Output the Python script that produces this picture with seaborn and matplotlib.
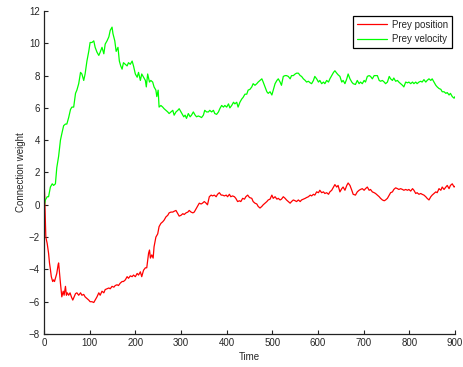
import matplotlib
matplotlib.use("Agg")
import matplotlib.pyplot as plt
import seaborn as sns
import pandas as pd

# Prey position weight over time
pos_time = [0, 1.5, 3, 4, 7, 10, 12, 14, 16, 19, 21, 23, 26, 28, 31, 32, 34, 36, 38, 39,
            42, 44, 47, 49, 51, 54, 57, 60, 63, 66, 69, 72, 76, 80, 83, 87, 90, 94, 98, 101,
            105, 109, 112, 116, 120, 123, 127, 131, 134, 138, 142, 145, 149, 153, 156, 160, 163, 167, 171, 174,
            178, 182, 185, 189, 193, 196, 200, 204, 207, 211, 214, 218, 222, 225, 229, 231, 233, 236, 239, 241,
            245, 249, 252, 256, 260, 263, 267, 271, 274, 278, 282, 285, 289, 293, 296, 300, 304, 307, 311, 315,
            318, 322, 326, 329, 333, 336, 340, 344, 347, 351, 355, 358, 362, 366, 369, 373, 377, 380, 384, 388,
            391, 395, 399, 402, 406, 409, 413, 417, 420, 424, 428, 431, 435, 439, 442, 446, 450, 455, 458, 462,
            466, 469, 473, 477, 480, 484, 488, 491, 495, 499, 502, 506, 510, 513, 517, 520, 524, 528, 531, 535,
            539, 542, 546, 550, 553, 557, 561, 564, 568, 572, 575, 579, 583, 586, 590, 593, 597, 601, 604, 608,
            612, 615, 619, 623, 626, 630, 634, 637, 641, 644, 648, 652, 655, 659, 663, 666, 670, 674, 677, 682,
            686, 690, 693, 697, 701, 704, 708, 712, 715, 719, 723, 726, 730, 734, 737, 741, 745, 748, 752, 756,
            759, 763, 766, 770, 774, 777, 781, 785, 788, 792, 796, 799, 803, 807, 810, 814, 817, 821, 825, 828,
            832, 836, 839, 843, 847, 850, 854, 858, 861, 865, 869, 872, 876, 880, 883, 887, 890, 894, 898, 900]
pos_value = [1.6, 0.5, -1.15, -2.0, -2.4, -3.0, -3.6, -4.0, -4.45, -4.75, -4.65, -4.75, -4.45, -4.25, -3.7, -3.6, -4.25, -4.85, -5.45, -5.7,
             -5.35, -5.6, -5.05, -5.6, -5.45, -5.6, -5.45, -5.7, -5.9, -5.7, -5.5, -5.45, -5.6, -5.45, -5.6, -5.55, -5.7, -5.8, -5.9, -6.0,
             -6.0, -6.05, -5.9, -5.7, -5.45, -5.6, -5.35, -5.45, -5.25, -5.2, -5.15, -5.2, -5.05, -5.1, -5.0, -4.95, -5.0, -4.85, -4.75, -4.75,
             -4.65, -4.45, -4.55, -4.4, -4.45, -4.35, -4.45, -4.25, -4.35, -4.15, -4.45, -4.05, -3.9, -3.9, -3.0, -2.8, -3.3, -3.1, -3.3, -2.6,
             -2.0, -1.8, -1.35, -1.15, -1.05, -0.95, -0.75, -0.65, -0.5, -0.45, -0.45, -0.4, -0.35, -0.55, -0.7, -0.65, -0.55, -0.6, -0.5, -0.45,
             -0.35, -0.45, -0.5, -0.45, -0.25, -0.1, 0.1, 0.05, 0.1, 0.2, 0.1, 0.0, 0.5, 0.6, 0.55, 0.6, 0.5, 0.65, 0.75, 0.6,
             0.6, 0.55, 0.6, 0.5, 0.65, 0.5, 0.55, 0.5, 0.4, 0.2, 0.25, 0.2, 0.4, 0.35, 0.5, 0.6, 0.45, 0.4, 0.2, 0.1,
             0.05, -0.1, -0.2, -0.1, 0.0, 0.1, 0.2, 0.3, 0.35, 0.6, 0.4, 0.5, 0.35, 0.4, 0.3, 0.35, 0.5, 0.4, 0.3, 0.2,
             0.1, 0.2, 0.3, 0.25, 0.2, 0.3, 0.2, 0.3, 0.35, 0.4, 0.45, 0.5, 0.6, 0.55, 0.65, 0.6, 0.8, 0.75, 0.9, 0.75,
             0.8, 0.7, 0.75, 0.65, 0.8, 0.9, 1.1, 1.25, 1.1, 1.2, 0.8, 1.0, 1.1, 0.9, 1.2, 1.35, 1.2, 0.9, 0.65, 0.6,
             0.8, 0.9, 0.95, 1.0, 0.9, 1.0, 1.1, 0.9, 0.95, 0.8, 0.75, 0.7, 0.6, 0.5, 0.4, 0.3, 0.25, 0.3, 0.4, 0.6,
             0.75, 0.8, 0.95, 1.05, 1.0, 0.95, 1.0, 0.95, 0.9, 0.95, 0.9, 0.95, 0.85, 1.0, 0.9, 0.7, 0.75, 0.65, 0.7, 0.65,
             0.6, 0.5, 0.4, 0.3, 0.5, 0.6, 0.7, 0.8, 0.75, 1.0, 0.9, 1.1, 0.95, 1.1, 1.2, 1.0, 1.2, 1.3, 1.1, 1.15]

# Prey velocity weight over time
vel_time = [0, 1, 3, 7, 10, 14, 18, 21, 25, 28, 32, 36, 39, 43, 47, 50, 54, 58, 61, 65,
            69, 72, 76, 80, 83, 87, 90, 94, 98, 101, 105, 109, 112, 116, 120, 123, 127, 131, 134, 138,
            142, 145, 149, 151, 155, 158, 162, 165, 168, 171, 174, 178, 182, 185, 189, 193, 196, 200, 204, 207,
            211, 214, 218, 222, 224, 227, 231, 234, 238, 241, 245, 247, 250, 252, 256, 260, 263, 267, 271, 274,
            278, 282, 285, 289, 293, 296, 298, 302, 306, 309, 312, 316, 320, 323, 327, 331, 334, 338, 342, 345,
            349, 352, 356, 360, 363, 367, 371, 374, 378, 382, 385, 389, 393, 396, 400, 404, 407, 411, 415, 418,
            422, 425, 429, 433, 436, 440, 444, 447, 451, 455, 458, 462, 466, 469, 473, 477, 480, 484, 488, 491,
            495, 499, 502, 506, 510, 513, 517, 520, 524, 528, 531, 535, 539, 542, 546, 550, 553, 557, 561, 564,
            568, 572, 575, 579, 583, 586, 590, 593, 597, 601, 604, 608, 612, 615, 619, 623, 626, 630, 634, 637,
            641, 644, 648, 652, 655, 659, 663, 666, 670, 674, 677, 682, 686, 690, 693, 697, 701, 704, 708, 712,
            715, 719, 723, 726, 730, 734, 737, 741, 745, 748, 752, 756, 759, 763, 766, 770, 774, 777, 781, 785,
            788, 792, 796, 799, 803, 807, 810, 814, 817, 821, 825, 828, 832, 836, 839, 843, 847, 850, 854, 858,
            861, 865, 869, 872, 876, 880, 883, 887, 890, 894, 898, 900]
vel_value = [-1.4, 0.0, 0.3, 0.5, 0.5, 1.1, 1.3, 1.2, 1.3, 2.3, 3.0, 4.0, 4.4, 4.9, 5.0, 5.0, 5.4, 5.9, 6.05, 6.05,
             6.9, 7.1, 7.5, 8.2, 8.1, 7.7, 8.1, 8.9, 9.5, 10.05, 10.05, 10.15, 9.75, 9.45, 9.25, 9.45, 9.75, 9.35, 9.95, 10.15,
             10.4, 10.8, 11.0, 10.6, 10.15, 9.5, 9.75, 8.9, 8.6, 8.4, 8.8, 8.7, 8.6, 8.8, 8.7, 8.9, 8.6, 8.1, 7.9, 8.2,
             7.7, 8.1, 7.9, 7.7, 7.3, 8.1, 7.6, 7.7, 7.6, 7.3, 7.1, 6.7, 7.1, 6.05, 6.15, 6.05, 5.95, 5.85, 5.75, 5.65,
             5.75, 5.85, 5.55, 5.75, 5.85, 5.95, 5.85, 5.65, 5.45, 5.55, 5.35, 5.65, 5.45, 5.55, 5.75, 5.55, 5.45, 5.5, 5.45, 5.4,
             5.55, 5.85, 5.75, 5.75, 5.85, 5.75, 5.85, 5.65, 5.6, 5.75, 5.95, 6.15, 6.05, 6.15, 6.05, 6.25, 6.0, 6.15, 6.35, 6.25,
             6.35, 6.05, 6.35, 6.55, 6.65, 6.85, 6.85, 7.1, 7.15, 7.3, 7.5, 7.4, 7.5, 7.6, 7.7, 7.8, 7.6, 7.3, 7.0, 6.9,
             7.0, 6.8, 7.1, 7.5, 7.7, 7.8, 7.6, 7.4, 7.95, 8.0, 8.0, 7.95, 7.8, 8.0, 8.0, 8.1, 8.15, 8.15, 8.0, 7.95,
             7.8, 7.7, 7.6, 7.65, 7.55, 7.5, 7.7, 7.95, 7.8, 7.6, 7.7, 7.5, 7.6, 7.5, 7.7, 7.6, 7.8, 8.0, 8.2, 8.3,
             8.15, 8.05, 7.95, 7.6, 7.7, 7.5, 7.8, 8.1, 7.8, 7.6, 7.5, 7.45, 7.7, 7.5, 7.6, 7.5, 7.7, 7.6, 7.95, 8.0,
             7.95, 7.8, 8.0, 8.0, 8.0, 7.7, 7.65, 7.7, 7.6, 7.5, 7.6, 7.95, 7.8, 7.7, 7.85, 7.65, 7.7, 7.6, 7.5, 7.4,
             7.3, 7.6, 7.55, 7.6, 7.5, 7.6, 7.5, 7.6, 7.5, 7.6, 7.65, 7.6, 7.75, 7.6, 7.7, 7.8, 7.7, 7.8, 7.6, 7.4,
             7.3, 7.2, 7.15, 7.0, 7.0, 6.9, 6.95, 6.8, 6.9, 6.7, 6.6, 6.7]

series_names = ["Prey position", "Prey velocity"]
series_colors = ["#ff0000", "#00ff00"]
x_ticks = [0, 100, 200, 300, 400, 500, 600, 700, 800, 900]
y_ticks = [-8, -6, -4, -2, 0, 2, 4, 6, 8, 10, 12]

df = pd.concat([
    pd.DataFrame({"Time": pos_time, "weight": pos_value, "series": series_names[0]}),
    pd.DataFrame({"Time": vel_time, "weight": vel_value, "series": series_names[1]}),
], ignore_index=True)

sns.set_style("white")
plt.rcParams["font.family"] = ["Liberation Sans", "DejaVu Sans"]
plt.rcParams["xtick.direction"] = "in"
plt.rcParams["ytick.direction"] = "in"

fig = plt.figure(figsize=(4.64, 3.67), dpi=100)
ax = fig.add_axes([44 / 464, 1 - 334 / 367, 411 / 464, 323 / 367])

sns.lineplot(data=df, x="Time", y="weight", hue="series", hue_order=series_names,
             palette=series_colors, estimator=None, linewidth=0.9, ax=ax)

ax.set_xlim(0, 900)
ax.set_ylim(-8, 12)
ax.set_xticks(x_ticks)
ax.set_yticks(y_ticks)
ax.tick_params(axis="both", labelsize=7, length=3, width=0.8, color="#222222",
               left=True, bottom=True, pad=3)
for side in ["top", "right"]:
    ax.spines[side].set_visible(False)
for side in ["left", "bottom"]:
    ax.spines[side].set_color("#222222")
    ax.spines[side].set_linewidth(0.9)

ax.set_xlabel("Time", fontsize=7, labelpad=3)
ax.set_ylabel("Connection weight", fontsize=7, labelpad=2)

leg = ax.legend(loc="upper right", bbox_to_anchor=(0.993, 0.985), fontsize=7,
                frameon=True, fancybox=False, edgecolor="black", framealpha=1,
                handlelength=3.1, handletextpad=0.5, labelspacing=0.45, borderpad=0.4,
                borderaxespad=0)
leg.get_frame().set_linewidth(0.9)
for line in leg.get_lines():
    line.set_linewidth(0.9)

fig.savefig("out.png", dpi=100)
